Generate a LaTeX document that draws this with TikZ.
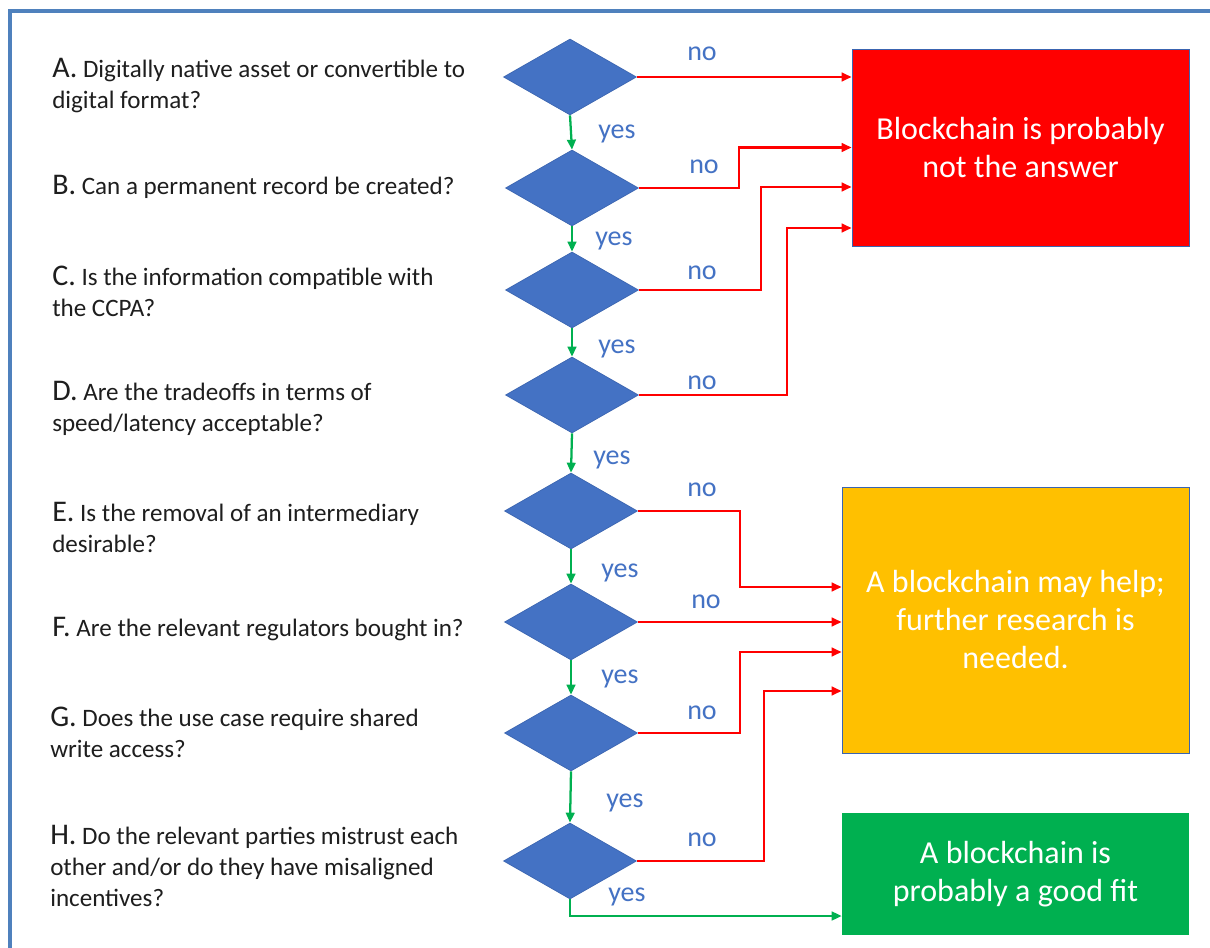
\documentclass[tikz,border=0pt]{standalone}
\usepackage{fontspec}
\setmainfont{Carlito}
\usetikzlibrary{shapes.geometric,arrows.meta,calc}
\definecolor{frameblue}{HTML}{4F81BD}
\definecolor{dblue}{HTML}{4472C4}
\definecolor{dborder}{HTML}{3A64B0}
\definecolor{nored}{HTML}{FF0000}
\definecolor{yesgreen}{HTML}{00B050}
\definecolor{orangebox}{HTML}{FFC000}
\definecolor{qtext}{HTML}{1E1E1E}
\newcommand\qfont{\fontsize{18.8}{23.25}\selectfont}
\newcommand\qletter[1]{{\fontsize{22.5}{23.25}\selectfont #1}}
\tikzset{
  decision/.style={diamond, fill=dblue, draw=dborder, line width=0.5pt,
    minimum width=99.75pt, minimum height=57pt, inner sep=0pt},
  question/.style={anchor=west, align=left, inner sep=0pt, text=qtext, font=\qfont},
  outcome/.style={rectangle, inner sep=0pt, align=center, text=white,
    font=\fontsize{24}{28.5}\selectfont},
  noline/.style={draw=nored, line width=1.7pt, -{Triangle[length=7.5pt,width=6.5pt]}},
  yesline/.style={draw=yesgreen, line width=1.7pt, -{Triangle[length=7.5pt,width=6.5pt]}},
  lbl/.style={text=dblue, font=\fontsize{21}{21}\selectfont, inner sep=0pt},
  frameline/.style={draw=frameblue, line width=3pt}
}
\begin{document}
\begin{tikzpicture}[x=0.75pt,y=-0.75pt]
\useasboundingbox (0,0) rectangle (1210,948);
\fill[white] (0,0) rectangle (1210,948);
% frame
\coordinate (fbl) at (10,948);
\coordinate (ftl) at (10,11);
\coordinate (ftr) at (1210,11);
\draw[frameline] (fbl) -- (ftl) -- (ftr);

% questions
\node[question] (qA) at (52,86) {\qletter{A.} Digitally native asset or convertible to\\digital format?};
\node[question] (qB) at (52,187) {\qletter{B.} Can a permanent record be created?};
\node[question] (qC) at (52,291) {\qletter{C.} Is the information compatible with\\the CCPA?};
\node[question] (qD) at (52,408) {\qletter{D.} Are the tradeoffs in terms of\\speed/latency acceptable?};
\node[question] (qE) at (52,527) {\qletter{E.} Is the removal of an intermediary\\desirable?};
\node[question] (qF) at (52,629) {\qletter{F.} Are the relevant regulators bought in?};
\node[question] (qG) at (50,732) {\qletter{G.} Does the use case require shared\\write access?};
\node[question] (qH) at (50,866) {\qletter{H.} Do the relevant parties mistrust each\\other and/or do they have misaligned\\incentives?};

% decisions
\node[decision] (A) at (570,77) {};
\node[decision] (B) at (572,188) {};
\node[decision] (C) at (572,290) {};
\node[decision] (D) at (572,395) {};
\node[decision] (E) at (571,511) {};
\node[decision] (F) at (571,622) {};
\node[decision] (G) at (571,733) {};
\node[decision] (H) at (570,861) {};

% outcomes
\node[outcome, fill=nored, draw=dborder, line width=0.6pt,
  minimum width=252.75pt, minimum height=147.75pt] (red) at (1020.5,147.5)
  {Blockchain is probably\\not the answer};
\node[outcome, fill=orangebox, draw=dborder, line width=0.6pt,
  minimum width=260.25pt, minimum height=199.5pt] (orange) at (1015.5,620)
  {A blockchain may help;\\further research is\\needed.};
\node[outcome, fill=yesgreen,
  minimum width=260.25pt, minimum height=91.5pt] (green) at (1015.5,874)
  {A blockchain is\\probably a good fit};
% yes connectors
\draw[yesline] (A.south) -- (B.north);
\draw[yesline] (B.south) -- (C.north);
\draw[yesline] (C.south) -- (D.north);
\draw[yesline] (D.south) -- (E.north);
\draw[yesline] (E.south) -- (F.north);
\draw[yesline] (F.south) -- (G.north);
\draw[yesline] (G.south) -- (H.north);
\draw[yesline] (H.south) |- ($(green.west)+(0,42)$);

% no connectors
\draw[noline] (A.east) -- (A.east -| red.west);
\draw[noline] (B.east) -- ++(100,0) |- (red.west);
\draw[noline] (C.east) -- ++(122,0) |- ($(red.west)+(0,39.5)$);
\draw[noline] (D.east) -- ++(148,0) |- ($(red.west)+(0,80.5)$);
\draw[noline] (E.east) -- ++(102,0) |- ($(orange.west)+(0,-33)$);
\draw[noline] (F.east) -- (F.east -| orange.west);
\draw[noline] (G.east) -- ++(102,0) |- ($(orange.west)+(0,32)$);
\draw[noline] (H.east) -- ++(127,0) |- ($(orange.west)+(0,71)$);

% labels
\node[lbl] (nA) at (702,54) {no};
\node[lbl] (nB) at (704,167) {no};
\node[lbl] (nC) at (702,273) {no};
\node[lbl] (nD) at (702,383) {no};
\node[lbl] (nE) at (702,490) {no};
\node[lbl] (nF) at (706,602) {no};
\node[lbl] (nG) at (702,713) {no};
\node[lbl] (nH) at (702,840) {no};
\node[lbl] (yA) at (617,134) {yes};
\node[lbl] (yB) at (614,241) {yes};
\node[lbl] (yC) at (617,349) {yes};
\node[lbl] (yD) at (612,460) {yes};
\node[lbl] (yE) at (620,573) {yes};
\node[lbl] (yF) at (620,679) {yes};
\node[lbl] (yG) at (625,803) {yes};
\node[lbl] (yH) at (627,897) {yes};
\end{tikzpicture}
\end{document}
